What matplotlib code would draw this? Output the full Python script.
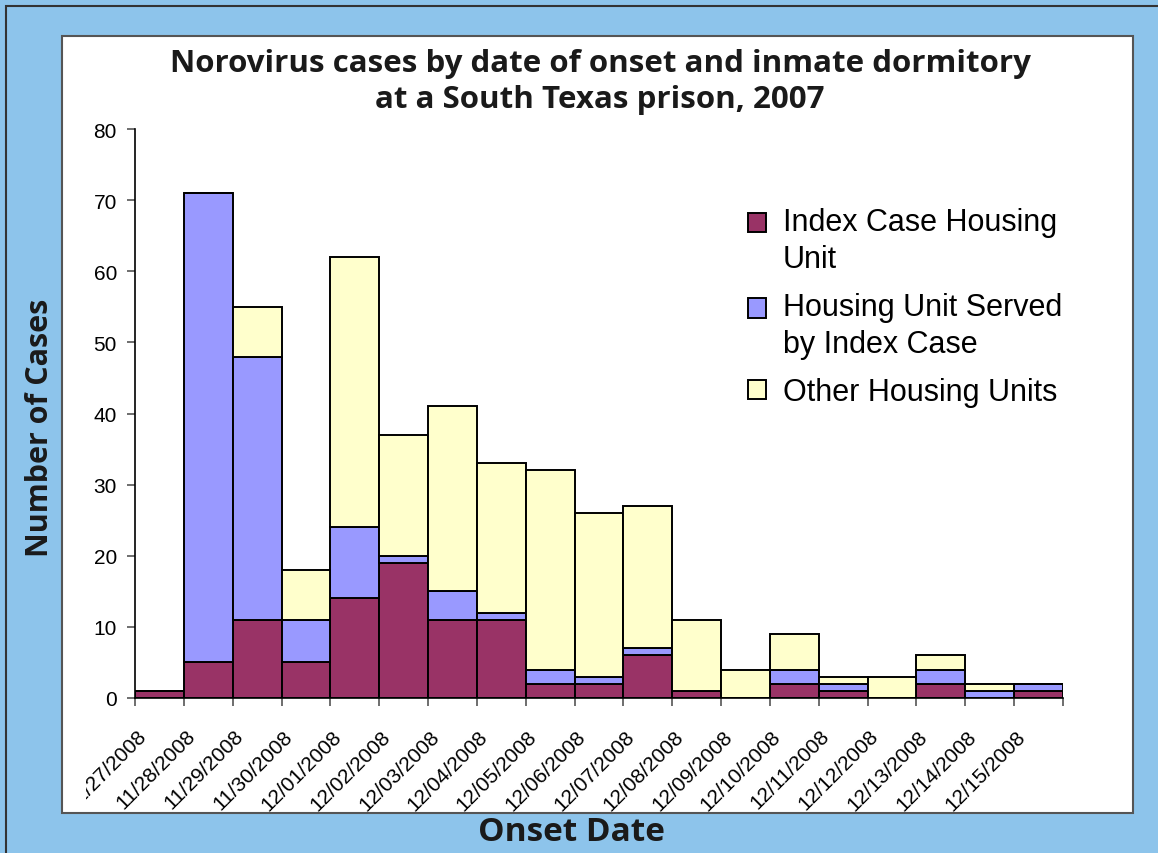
import matplotlib.pyplot as plt
import matplotlib.patches as mpatches
from matplotlib.transforms import Bbox, TransformedBbox, ScaledTranslation
import numpy as np

# onset dates (one bar per day)
dates = ['11/27/2008', '11/28/2008', '11/29/2008', '11/30/2008', '12/01/2008',
         '12/02/2008', '12/03/2008', '12/04/2008', '12/05/2008', '12/06/2008',
         '12/07/2008', '12/08/2008', '12/09/2008', '12/10/2008', '12/11/2008',
         '12/12/2008', '12/13/2008', '12/14/2008', '12/15/2008']
index_unit = [1, 5, 11, 5, 14, 19, 11, 11, 2, 2, 6, 1, 0, 2, 1, 0, 2, 0, 1]
served_unit = [0, 66, 37, 6, 10, 1, 4, 1, 2, 1, 1, 0, 0, 2, 1, 0, 2, 1, 1]
other_units = [0, 0, 7, 7, 38, 17, 26, 21, 28, 23, 20, 10, 4, 5, 1, 3, 2, 1, 0]
series_names = ['Index Case Housing\nUnit', 'Housing Unit Served\nby Index Case',
                'Other Housing Units']
colors = ['#993366', '#9999FF', '#FFFFCC']

W, H = 1158, 854
fig = plt.figure(figsize=(W / 100, H / 100), dpi=100, facecolor='#8DC4EB')

# outer border and white panel
fig.patches.append(mpatches.Rectangle((6 / W, -0.1), 1.2, 1 - 7 / H + 0.1,
                                      transform=fig.transFigure, facecolor='none',
                                      edgecolor='#333333', linewidth=1.5, zorder=-2))
panel = mpatches.Rectangle((62 / W, 1 - 814 / H), (1133 - 62) / W, (814 - 37) / H,
                           transform=fig.transFigure, facecolor='white',
                           edgecolor='#555555', linewidth=1.5, zorder=-1)
fig.patches.append(panel)

ax = fig.add_axes([135 / W, 1 - 699 / H, (1063 - 135) / W, (699 - 130) / H])
ax.set_facecolor('none')

x = np.arange(len(dates))
bottom = np.zeros(len(dates))
for vals, name, col in zip([index_unit, served_unit, other_units], series_names, colors):
    vals = np.array(vals)
    ax.bar(x, vals, width=1.0, bottom=bottom, align='edge', color=col,
           edgecolor='black', linewidth=1.4, label=name)
    bottom += vals

ax.set_xlim(0, len(dates))
ax.set_ylim(0, 80)
ax.set_yticks(np.arange(0, 81, 10))
ax.set_xticks(np.arange(len(dates) + 1))
ax.set_xticklabels(dates + [''])
for spine in ['top', 'right']:
    ax.spines[spine].set_visible(False)
for spine in ['left', 'bottom']:
    ax.spines[spine].set_linewidth(1.2)
ax.tick_params(axis='both', length=6, width=1.2, color='#555555', labelsize=15)
ax.tick_params(axis='x', pad=19)
ax.tick_params(axis='y', pad=7)
shift = ScaledTranslation(0.08, 0, fig.dpi_scale_trans)  # 8 px to the right
for lab in ax.get_xticklabels():
    lab.set_rotation(45)
    lab.set_ha('right')
    lab.set_va('center')
    lab.set_rotation_mode('anchor')
    lab.set_fontfamily('Liberation Sans')
    lab.set_transform(lab.get_transform() + shift)
for lab in ax.get_yticklabels():
    lab.set_fontfamily('Liberation Sans')

# first date label is clipped by the plot area in the original
first = ax.get_xticklabels()[0]
first.set_clip_on(True)
first.set_clip_box(TransformedBbox(Bbox([[86 / W, 0], [1, 1]]), fig.transFigure))

leg = ax.legend(loc='upper left', bbox_to_anchor=(720 / W, 1 - 180 / H),
                bbox_transform=fig.transFigure, frameon=False,
                prop={'family': 'Liberation Sans', 'size': 22},
                handlelength=0.6, handleheight=0.6, handletextpad=0.55,
                labelspacing=0.58)
for t in leg.get_texts():
    t.set_linespacing(1.33)
# put the swatch beside the first line of two-line labels
for h, name in zip(leg.legend_handles, series_names):
    if '\n' in name:
        h.set_y(h.get_y() + 13.3)

fig.text(600 / W, 1 - 82 / H,
         'Norovirus cases by date of onset and inmate dormitory\nat a South Texas prison, 2007',
         ha='center', va='center', fontsize=22.5, fontweight='bold',
         family='Open Sans', linespacing=1.27, color='#1a1a1a')
fig.text(40 / W, 1 - 428 / H, 'Number of Cases', rotation=90, ha='center',
         va='center', fontsize=22, fontweight='bold', family='Open Sans',
         color='#1a1a1a')
fig.text(571 / W, 1 - 833 / H, 'Onset Date', ha='center', va='center',
         fontsize=24, fontweight='bold', family='Open Sans', color='#1a1a1a')

fig.savefig('out.png', dpi=100, facecolor=fig.get_facecolor())
